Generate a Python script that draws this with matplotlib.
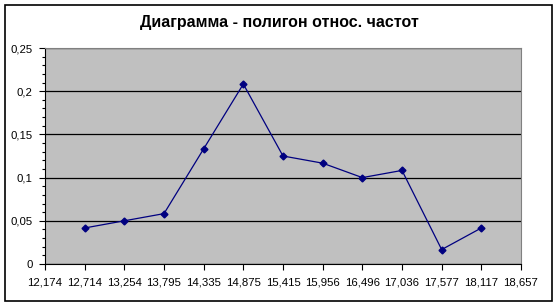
import numpy as np
import matplotlib.pyplot as plt
from matplotlib.patches import Rectangle
from matplotlib.ticker import MultipleLocator, FixedLocator

# Границы интервалов (подписи оси X) и относительные частоты
tick_labels = ['12,174', '12,714', '13,254', '13,795', '14,335', '14,875', '15,415',
               '15,956', '16,496', '17,036', '17,577', '18,117', '18,657']
rel_freq = [0.0417, 0.05, 0.0583, 0.1333, 0.2083, 0.125, 0.1167, 0.1, 0.1083, 0.0167, 0.0417]
y_labels = ['0', '0,05', '0,1', '0,15', '0,2', '0,25']

plt.rcParams['font.family'] = ['Liberation Sans', 'DejaVu Sans']

fig = plt.figure(figsize=(5.59, 3.07), dpi=100)
ax = fig.add_axes([45 / 559, 1 - 264 / 307, (521 - 45) / 559, (264 - 48) / 307])

# рамка вокруг диаграммы
fig.patches.append(Rectangle((5 / 559, 1 - 301 / 307), 547 / 559, 296 / 307,
                             transform=fig.transFigure, fill=False,
                             edgecolor='black', linewidth=1.2))

ax.set_facecolor('#c0c0c0')
x = np.arange(1, len(rel_freq) + 1)
ax.plot(x, rel_freq, color='#000080', linewidth=0.9, marker='D', markersize=3.5,
        zorder=3)

ax.set_xlim(0, len(tick_labels) - 1)
ax.set_ylim(0, 0.25)
ax.xaxis.set_major_locator(FixedLocator(range(len(tick_labels))))
ax.set_xticklabels(tick_labels, fontsize=8.2)
ax.set_yticks(np.arange(0, 0.26, 0.05))
ax.set_yticklabels(y_labels, fontsize=8.2)
ax.yaxis.set_minor_locator(MultipleLocator(0.01))
ax.tick_params(axis='both', which='major', length=4, width=0.8, color='black')
ax.tick_params(axis='y', which='minor', length=2, width=0.8)
ax.tick_params(axis='x', pad=6)
ax.tick_params(axis='y', pad=5)

ax.grid(axis='y', which='major', color='black', linewidth=0.9)
ax.set_axisbelow(True)
for side in ['top', 'right']:
    ax.spines[side].set_color('#808080')
ax.spines['left'].set_color('black')
ax.spines['bottom'].set_color('black')

fig.text(0.5, 1 - 22 / 307, 'Диаграмма - полигон относ. частот', ha='center',
         va='center', fontsize=11.5, fontweight='bold')

fig.savefig('out.png', dpi=100)
